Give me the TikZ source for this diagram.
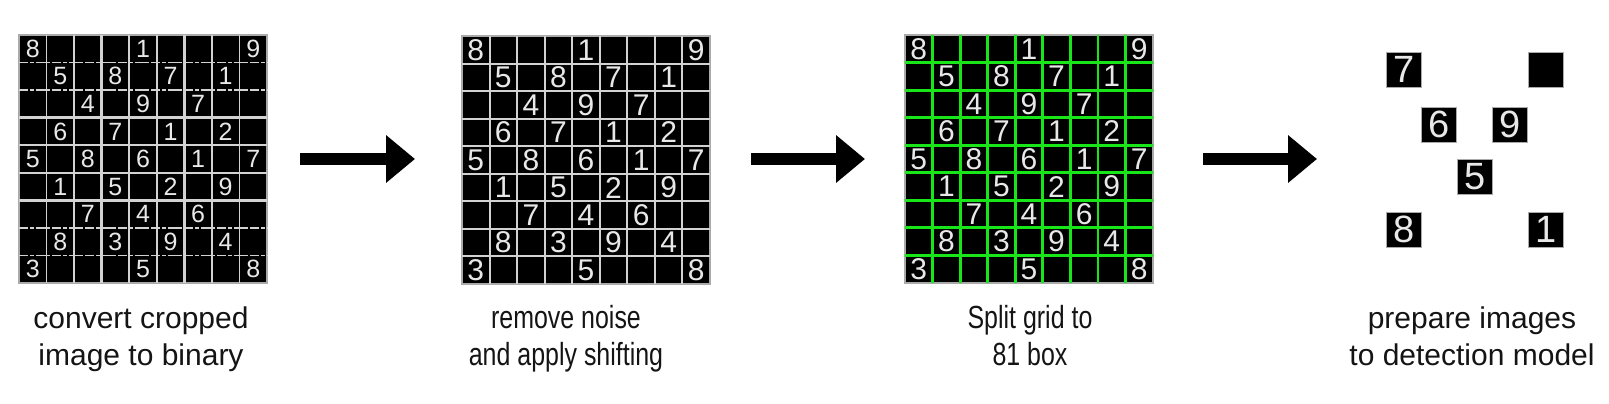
\documentclass[tikz,border=0pt]{standalone}
\usepackage{fontspec}
\setmainfont{Liberation Sans}
\newfontfamily\condfont[FakeStretch=0.78]{Liberation Sans}
\usetikzlibrary{arrows.meta}
\definecolor{gridgreen}{RGB}{24,230,24}
\definecolor{digitwhite}{RGB}{232,232,232}
\definecolor{linegray}{RGB}{210,210,210}
\definecolor{bordergray}{RGB}{170,170,170}
\definecolor{textblack}{RGB}{20,20,20}
\begin{document}
\begin{tikzpicture}[x=1pt,y=-1pt,
  board/.style={fill=black,draw=bordergray,line width=1.2pt,minimum width=248pt,minimum height=248pt,inner sep=0pt,outer sep=0pt,anchor=north west},
  digA/.style={text=digitwhite,font=\fontsize{25}{25}\selectfont,inner sep=0pt},
  digB/.style={text=digitwhite,font=\fontsize{30}{30}\selectfont,inner sep=0pt},
  thinA/.style={draw=linegray,line width=1.5pt},
  thickA/.style={draw=linegray,line width=2.8pt},
  noisy/.style={dash pattern=on 9pt off 2pt on 4pt off 1.5pt on 14pt off 2.5pt},
  lineB/.style={draw=linegray,line width=2pt},
  splitline/.style={draw=gridgreen,line width=2.8pt},
  bigarrow/.style={line width=12pt,-{Triangle[width=46pt,length=29pt]}},
  tile/.style={fill=black,draw=bordergray,line width=0.8pt,minimum size=35pt,inner sep=0pt,anchor=north west,text=digitwhite,font=\fontsize{38}{38}\selectfont},
  lab/.style={anchor=base,inner sep=0pt,text=textblack,font=\fontsize{30}{30}\selectfont},
  labc/.style={anchor=base,inner sep=0pt,text=textblack,font=\condfont\fontsize{32}{32}\selectfont},
]
\useasboundingbox (0,0) rectangle (1609,404);

% boards
\node[board] (g1) at (19,35) {};
\node[board] (g2) at (462,36) {};
\node[board] (g3) at (905,35) {};

% grid 1 lines (binary, noisy)
\foreach \k in {4,5} {
  \draw[thinA] ({19+\k*248/9},35) -- ({19+\k*248/9},283);
  \draw[thinA] (19,{35+\k*248/9}) -- (267,{35+\k*248/9});
}
\foreach \k in {1,2,7,8} {
  \draw[thinA] ({19+\k*248/9},35) -- ({19+\k*248/9},283);
  \draw[thinA,noisy] (19,{35+\k*248/9}) -- (267,{35+\k*248/9});
}
\foreach \k in {3,6} {
  \draw[thickA] ({19+\k*248/9},35) -- ({19+\k*248/9},283);
  \draw[thickA] (19,{35+\k*248/9}) -- (267,{35+\k*248/9});
}

% grid 2 lines
\foreach \k in {1,...,8} {
  \draw[lineB] ({462+\k*248/9},36) -- ({462+\k*248/9},284);
  \draw[lineB] (462,{36+\k*248/9}) -- (710,{36+\k*248/9});
}

% grid 3 split lines
\foreach \k in {1,...,8} {
  \draw[splitline] ({905+\k*248/9},35) -- ({905+\k*248/9},283);
  \draw[splitline] (905,{35+\k*248/9}) -- (1153,{35+\k*248/9});
}

% digits
\foreach \r/\c/\v in {1/1/8,1/5/1,1/9/9,2/2/5,2/4/8,2/6/7,2/8/1,3/3/4,3/5/9,3/7/7,
  4/2/6,4/4/7,4/6/1,4/8/2,5/1/5,5/3/8,5/5/6,5/7/1,5/9/7,6/2/1,6/4/5,6/6/2,6/8/9,
  7/3/7,7/5/4,7/7/6,8/2/8,8/4/3,8/6/9,8/8/4,9/1/3,9/5/5,9/9/8} {
  \node[digA] (ga\r\c) at ({19+(\c-0.5)*248/9},{35+(\r-0.5)*248/9}) {\v};
  \node[digB] (gb\r\c) at ({462+(\c-0.5)*248/9},{36+(\r-0.5)*248/9}) {\v};
  \node[digB] (gc\r\c) at ({905+(\c-0.5)*248/9},{35+(\r-0.5)*248/9}) {\v};
}

% arrows
\coordinate (a1s) at (300,159); \coordinate (a1e) at (415,159);
\coordinate (a2s) at (751,159); \coordinate (a2e) at (865,159);
\coordinate (a3s) at (1203,159); \coordinate (a3e) at (1317,159);
\draw[bigarrow] (a1s) -- (a1e);
\draw[bigarrow] (a2s) -- (a2e);
\draw[bigarrow] (a3s) -- (a3e);

% digit tiles
\node[tile] (t7) at (1386,52) {7};
\node[tile] (tblank) at (1528,52) {};
\node[tile] (t6) at (1421,107) {6};
\node[tile] (t9) at (1492,107) {9};
\node[tile] (t5) at (1457,159) {5};
\node[tile] (t8) at (1386,212) {8};
\node[tile] (t1) at (1528,212) {1};

% labels
\node[lab] (l1a) at (141,328) {convert cropped};
\node[lab] (l1b) at (141,365) {image to binary};
\node[labc] (l2a) at (566,328) {remove noise};
\node[labc] (l2b) at (566,365) {and apply shifting};
\node[labc] (l3a) at (1030,328) {Split grid to};
\node[labc] (l3b) at (1030,365) {81 box};
\node[lab] (l4a) at (1472,328) {prepare images};
\node[lab] (l4b) at (1472,365) {to detection model};
\end{tikzpicture}
\end{document}
